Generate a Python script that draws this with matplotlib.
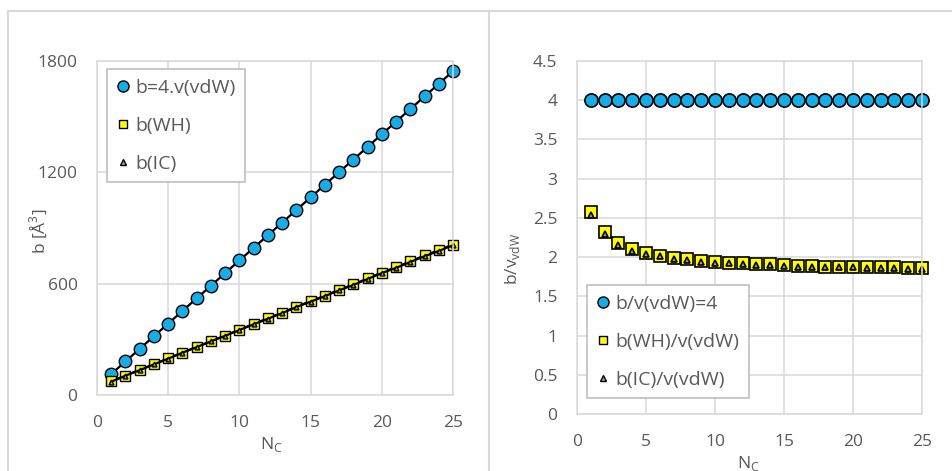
import matplotlib

matplotlib.use("Agg")

import matplotlib.pyplot as plt
from matplotlib.lines import Line2D

plt.rcParams["font.family"] = ["Open Sans", "DejaVu Sans"]

# carbon number
n_c = list(range(1, 26))

# left panel: co-volume b [Å^3]
b_vdw4 = [113, 181, 249, 317, 385, 453, 521, 589, 657, 725, 793, 861, 929,
          997, 1065, 1133, 1201, 1269, 1337, 1405, 1473, 1541, 1609, 1677, 1745]
b_wh = [73, 105, 136, 166, 197, 229, 259, 290, 320, 352, 383, 413, 444,
        476, 506, 535, 567, 596, 628, 660, 689, 720, 752, 780, 811]
b_ic = [72, 104, 134, 165, 196, 228, 258, 289, 319, 350, 381, 411, 441,
        474, 503, 533, 564, 593, 625, 657, 685, 717, 748, 776, 807]

# right panel: b / v_vdW
r_vdw = [4.0] * 25
r_wh = [2.58, 2.32, 2.18, 2.10, 2.05, 2.02, 1.99, 1.97, 1.95, 1.94, 1.93, 1.92, 1.91,
        1.91, 1.90, 1.89, 1.89, 1.88, 1.88, 1.88, 1.87, 1.87, 1.87, 1.86, 1.86]
r_ic = [2.54, 2.29, 2.16, 2.08, 2.04, 2.01, 1.98, 1.96, 1.94, 1.93, 1.92, 1.91, 1.90,
        1.90, 1.89, 1.88, 1.88, 1.87, 1.87, 1.87, 1.86, 1.86, 1.86, 1.85, 1.85]

BLUE = "#17ace6"
YELLOW = "#ffff00"
TRI = "#9a9a9a"
GRID = "#d9d9d9"
TXT = "#595959"

W, H = 952, 471
fig = plt.figure(figsize=(W / 100, H / 100), dpi=100)


def px_axes(x0, y0, x1, y1):
    return fig.add_axes([x0 / W, 1 - y1 / H, (x1 - x0) / W, (y1 - y0) / H])


# panel borders
border = fig.add_axes([0, 0, 1, 1], facecolor="none")
border.set_xlim(0, W)
border.set_ylim(H, 0)
border.axis("off")
border.plot([8, W], [10.5, 10.5], color=GRID, lw=1.5)
border.plot([8, 8], [10.5, H], color=GRID, lw=1.5)
border.plot([489, 489], [10.5, H], color=GRID, lw=1.5)


def style(ax):
    ax.grid(True, color=GRID, lw=1.1)
    ax.set_axisbelow(True)
    for s in ax.spines.values():
        s.set_color(GRID)
        s.set_linewidth(1.1)
    ax.tick_params(axis="x", length=0, labelsize=12.5, colors=TXT, pad=14.5)
    ax.tick_params(axis="y", length=0, labelsize=12.5, colors=TXT, pad=14)
    ax.set_xlim(0, 25)
    ax.set_xticks([0, 5, 10, 15, 20, 25])


def legend(ax, labels, loc, ms):
    handles = [
        Line2D([], [], ls="none", marker="o", ms=ms[0], mfc=BLUE, mec="black", mew=1),
        Line2D([], [], ls="none", marker="s", ms=ms[1], mfc=YELLOW, mec="black", mew=1),
        Line2D([], [], ls="none", marker="^", ms=ms[2], mfc=TRI, mec="black", mew=1),
    ]
    leg = ax.legend(handles, labels, bbox_to_anchor=loc, loc="upper left",
                    fontsize=14, labelspacing=1.02, handlelength=0.6, handletextpad=0.35,
                    borderpad=0.5, borderaxespad=0, fancybox=False, framealpha=1,
                    edgecolor="#bfbfbf")
    leg.get_frame().set_linewidth(1.2)
    for t in leg.get_texts():
        t.set_color(TXT)


# left: b vs N_C
ax1 = px_axes(97, 61, 453, 395)
style(ax1)
ax1.set_ylim(0, 1800)
ax1.set_yticks([0, 600, 1200, 1800])
for y, m, c, ms in [(b_vdw4, "o", BLUE, 9), (b_wh, "s", YELLOW, 6.5), (b_ic, "^", TRI, 3.5)]:
    ax1.plot(n_c, y, color="black", lw=1.6, marker=m, ms=ms, mfc=c, mec="black", mew=1,
             clip_on=False)
ax1.set_xlabel("N$_\\mathregular{C}$", fontsize=12.5, color=TXT)
ax1.set_ylabel("b [Å$^\\mathregular{3}$]", fontsize=12.5, color=TXT)
ax1.xaxis.set_label_coords(0.49, -0.12)
ax1.yaxis.set_label_coords(-0.135, 0.49)
legend(ax1, ["b=4.v(vdW)", "b(WH)", "b(IC)"], (0.028, 0.975), (8, 6, 4))

# right: b / v_vdW vs N_C
ax2 = px_axes(577, 61, 922, 414)
style(ax2)
ax2.set_ylim(0, 4.5)
ax2.set_yticks([0, 0.5, 1, 1.5, 2, 2.5, 3, 3.5, 4, 4.5])
ax2.set_yticklabels(["0", "0.5", "1", "1.5", "2", "2.5", "3", "3.5", "4", "4.5"])
for y, m, c, ms in [(r_vdw, "o", BLUE, 9.5), (r_wh, "s", YELLOW, 8), (r_ic, "^", TRI, 4)]:
    ax2.plot(n_c, y, ls="none", marker=m, ms=ms, mfc=c, mec="black", mew=1.2, clip_on=False)
ax2.set_xlabel("N$_\\mathregular{C}$", fontsize=12.5, color=TXT)
ax2.set_ylabel("b/v$_\\mathregular{vdW}$", fontsize=12.5, color=TXT)
ax2.xaxis.set_label_coords(0.496, -0.113)
ax2.yaxis.set_label_coords(-0.16, 0.44)
legend(ax2, ["b/v(vdW)=4", "b(WH)/v(vdW)", "b(IC)/v(vdW)"], (0.029, 0.365), (8, 6, 4))

fig.savefig("out.png", dpi=100)
